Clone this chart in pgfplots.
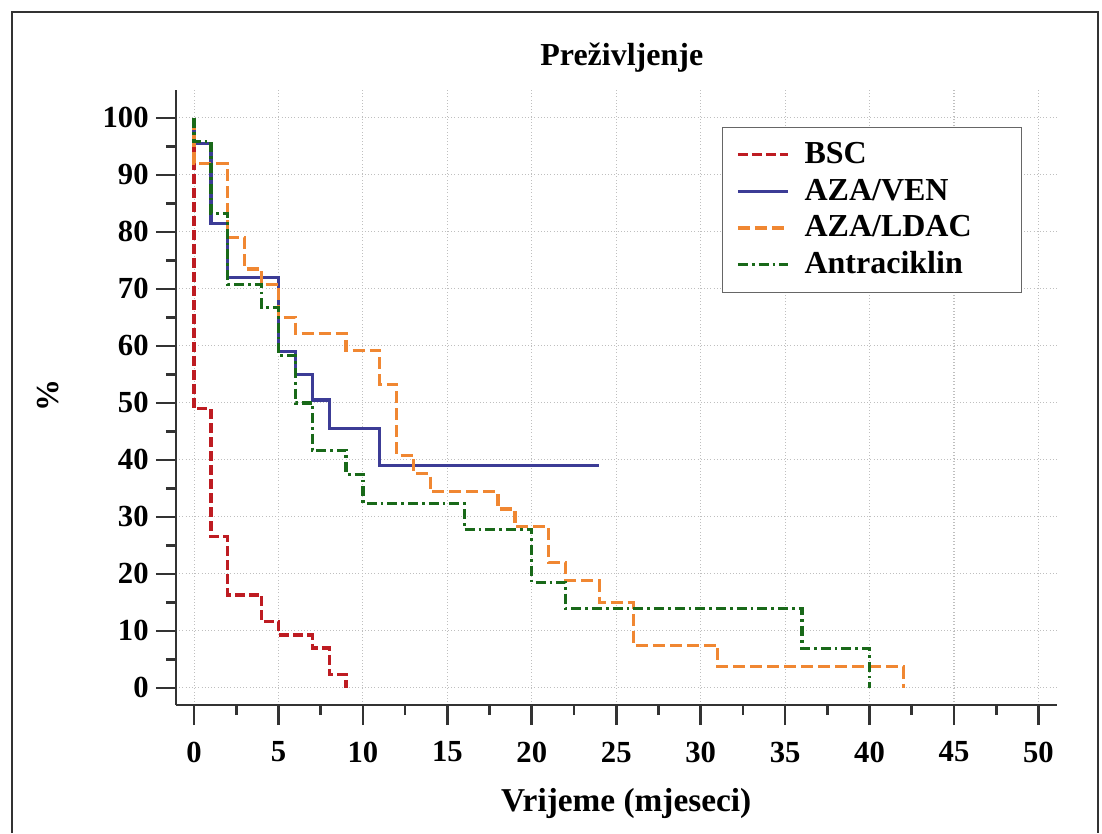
\documentclass[border=0pt]{standalone}
\usepackage{fontspec}
\setmainfont{Liberation Serif}
\usepackage{pgfplots}
\pgfplotsset{compat=1.18}

\definecolor{bscred}{RGB}{190,28,34}
\definecolor{venblue}{RGB}{60,60,150}
\definecolor{ldacorange}{RGB}{240,135,50}
\definecolor{antgreen}{RGB}{25,105,25}

\begin{document}
\begin{tikzpicture}
% page = 1102 x 833 px, 1 px = 0.75pt
\path[use as bounding box] (0,0) rectangle (826.5pt,624.75pt);
\draw[line width=1.2pt, black!80] (9pt,0) -- (9pt,615.75pt) -- (823.5pt,615.75pt) -- (823.5pt,0);
\begin{axis}[
    at={(132pt,96pt)}, anchor=south west,
    scale only axis,
    width=660.75pt, height=461.25pt,
    xmin=-1.07, xmax=51.1,
    ymin=-3, ymax=104.9,
    axis lines=left,
    axis line style={-, line width=2.2pt, black!80},
    xtick={0,5,...,50},
    ytick={0,10,...,100},
    minor x tick num=1,
    minor y tick num=1,
    tick align=outside,
    major tick length=15pt,
    minor tick length=7.5pt,
    tick style={line width=2pt, black!80},
    grid=major,
    major grid style={dotted, line width=0.8pt, black!25},
    /pgf/number format/assume math mode=true,
    tick label style={font=\fontsize{23}{25}\selectfont\bfseries},
    xticklabel style={yshift=-9pt},
    yticklabel style={xshift=-2pt},
    title={Preživljenje},
    title style={font=\fontsize{24}{26}\selectfont\bfseries, at={(0.506,1.027)}, anchor=base},
    xlabel={Vrijeme (mjeseci)},
    xlabel style={font=\fontsize{25}{27}\selectfont\bfseries, at={(0.511,-0.173)}, anchor=base},
    ylabel={\%},
    ylabel style={font=\fontsize{24}{26}\selectfont\bfseries, at={(-0.145,0.504)}, anchor=center},
    legend style={at={(0.960,0.940)}, anchor=north east,
        draw=black!60, line width=0.8pt,
        font=\fontsize{24}{26}\selectfont\bfseries,
        inner xsep=10.5pt, inner ysep=9pt,
        row sep=4.5pt, column sep=11.25pt,
        nodes={inner sep=0pt, text height=18pt, text depth=5pt}},
    legend cell align=left,
    legend image code/.code={\draw[#1] (0pt,0pt) -- (37.5pt,0pt);},
]
% BSC
\addplot[const plot, color=bscred, line width=2.4pt, dash pattern=on 7.5pt off 3pt] coordinates {
(0,100) (0,49) (1,26.5) (2,16.3) (4,11.6) (5,9.3) (7,7.0) (8,2.3) (9,0)};
\addlegendentry{BSC}
% AZA/VEN
\addplot[const plot, color=venblue, line width=2.4pt] coordinates {
(0,100) (0,95.5) (1,81.5) (2,72) (5,59) (6,55) (7,50.5) (8,45.5) (11,39) (24,39)};
\addlegendentry{AZA/VEN}
% AZA/LDAC
\addplot[const plot, color=ldacorange, line width=2.4pt, dash pattern=on 9pt off 3.75pt] coordinates {
(0,100) (0,92) (2,79) (3,73.5) (4,70.8) (5,65) (6,62.2) (9,59.2) (11,53.3) (12,40.8)
(13,37.6) (14,34.4) (18,31.4) (19,28.3) (21,22) (22,18.8) (24,15) (26,7.5) (31,3.7) (42,0)};
\addlegendentry{\makebox[152pt][l]{AZA/LDAC}}
% Antraciklin
\addplot[const plot, color=antgreen, line width=2.4pt, dash pattern=on 7.5pt off 3pt on 2pt off 3pt] coordinates {
(0,100) (0,95.8) (1,83.3) (2,70.8) (4,66.7) (5,58.3) (6,50) (7,41.7) (9,37.5) (10,32.4)
(16,27.8) (20,18.5) (22,13.9) (36,6.9) (40,0)};
\addlegendentry{Antraciklin}
\end{axis}
\end{tikzpicture}
\end{document}
